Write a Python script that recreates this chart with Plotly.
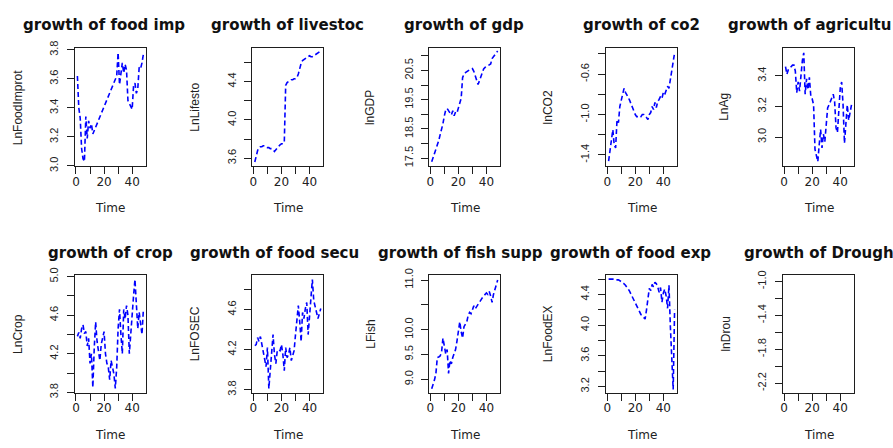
import plotly.graph_objects as go

# ---- series (t = 1..48) ----
time = list(range(1, 49))

food_import_t = list(range(1, 13)) + list(range(29, 49))
ln_food_import = [3.62, 3.40, 3.33, 3.12, 3.05, 3.03, 3.34, 3.19, 3.31, 3.26, 3.29, 3.22,
                  3.62, 3.78, 3.56, 3.62, 3.71, 3.64, 3.70, 3.66, 3.45, 3.43, 3.41, 3.39,
                  3.55, 3.57, 3.50, 3.53, 3.68, 3.67, 3.71, 3.77]

ln_livestock = [3.56, 3.63, 3.68, 3.71, 3.72, 3.72, 3.73, 3.73, 3.72, 3.71, 3.71, 3.70,
                3.70, 3.69, 3.67, 3.69, 3.71, 3.72, 3.74, 3.75, 3.75, 3.76, 4.36, 4.39,
                4.40, 4.41, 4.42, 4.42, 4.43, 4.43, 4.44, 4.48, 4.55, 4.59, 4.62, 4.63,
                4.64, 4.65, 4.66, 4.67, 4.66, 4.66, 4.67, 4.68, 4.69, 4.70, 4.71, 4.72]

ln_gdp = [17.38, 17.52, 17.65, 17.78, 17.90, 18.10, 18.30, 18.45, 18.68, 18.95, 19.15, 19.20,
          19.10, 19.05, 18.98, 19.12, 18.95, 19.08, 19.05, 19.22, 19.38, 19.55, 20.25, 20.38,
          20.42, 20.46, 20.50, 20.52, 20.54, 20.56, 20.47, 20.33, 20.15, 20.02, 20.14, 20.28,
          20.38, 20.55, 20.60, 20.63, 20.66, 20.68, 20.72, 20.90, 20.98, 21.06, 21.10, 21.16]

ln_co2 = [-1.46, -1.36, -1.28, -1.15, -1.30, -1.33, -1.05, -1.08, -0.92, -0.85, -0.78, -0.74,
          -0.78, -0.80, -0.83, -0.86, -0.90, -0.94, -0.97, -1.00, -1.02, -1.02, -1.01, -1.02,
          -1.00, -1.00, -1.02, -1.03, -1.05, -1.00, -0.98, -0.92, -0.95, -0.88, -0.93, -0.87,
          -0.85, -0.82, -0.84, -0.78, -0.80, -0.76, -0.72, -0.74, -0.64, -0.55, -0.47, -0.39]

ln_ag = [3.46, 3.41, 3.44, 3.45, 3.46, 3.47, 3.47, 3.43, 3.29, 3.36, 3.30, 3.42,
         3.50, 3.55, 3.28, 3.38, 3.31, 3.39, 3.27, 3.25, 3.21, 2.92, 2.87, 2.84,
         2.95, 3.05, 2.93, 3.02, 2.97, 3.06, 3.19, 3.21, 3.23, 3.25, 3.28, 3.23,
         3.06, 3.03, 3.21, 3.32, 3.36, 3.21, 2.96, 3.13, 3.21, 3.11, 3.17, 3.21]

ln_crop = [4.38, 4.42, 4.36, 4.46, 4.50, 4.41, 4.43, 4.28, 4.36, 4.10, 4.20, 3.85,
           4.26, 4.53, 4.33, 4.23, 4.13, 4.30, 4.36, 4.43, 4.20, 4.10, 4.06, 3.93,
           4.13, 4.06, 3.99, 3.84, 4.06, 4.46, 4.66, 4.40, 4.20, 4.66, 4.56, 4.70,
           4.60, 4.20, 4.40, 4.70, 4.80, 4.97, 4.73, 4.46, 4.63, 4.53, 4.40, 4.66]

ln_fosec = [4.24, 4.25, 4.32, 4.28, 4.33, 4.25, 4.20, 4.09, 4.03, 4.22, 3.81, 3.99,
            4.15, 4.35, 4.15, 4.06, 4.19, 4.20, 4.19, 4.25, 4.15, 3.99, 4.22, 4.12,
            4.15, 4.22, 4.09, 4.15, 4.19, 4.35, 4.53, 4.64, 4.48, 4.28, 4.57, 4.51,
            4.61, 4.67, 4.35, 4.54, 4.74, 4.90, 4.69, 4.64, 4.57, 4.51, 4.57, 4.61]

l_fish = [8.81, 8.89, 8.99, 9.12, 9.44, 9.45, 9.47, 9.54, 9.83, 9.67, 9.51, 9.60,
          9.12, 9.38, 9.31, 9.44, 9.51, 9.60, 9.77, 9.96, 10.16, 9.96, 9.83, 10.06,
          10.12, 10.16, 10.29, 10.35, 10.32, 10.42, 10.48, 10.42, 10.48, 10.51, 10.55, 10.61,
          10.64, 10.68, 10.71, 10.74, 10.71, 10.77, 10.68, 10.55, 10.71, 10.81, 10.90, 11.00]

ln_food_export = [4.60, 4.60, 4.60, 4.60, 4.60, 4.59, 4.59, 4.59, 4.58, 4.57, 4.56, 4.54,
                  4.52, 4.50, 4.47, 4.44, 4.40, 4.36, 4.32, 4.28, 4.24, 4.20, 4.17, 4.14,
                  4.12, 4.10, 4.08, 4.20, 4.38, 4.48, 4.45, 4.53, 4.50, 4.56, 4.54, 4.50,
                  4.43, 4.49, 4.30, 4.42, 4.47, 4.38, 4.22, 4.52, 3.98, 3.52, 3.16, 4.20]

ln_drought = []

# ---- axis ticks ----
x_ticks = [0, 10, 20, 30, 40]
x_tick_text = ["0", "", "20", "", "40"]

y_ticks = {
    "food_imp": ([3.0, 3.2, 3.4, 3.6, 3.8], ["3.0", "3.2", "3.4", "3.6", "3.8"]),
    "livestock": ([3.6, 3.8, 4.0, 4.2, 4.4, 4.6], ["3.6", "", "4.0", "", "4.4", ""]),
    "gdp": ([17.5, 18, 18.5, 19, 19.5, 20, 20.5, 21], ["17.5", "", "18.5", "", "19.5", "", "20.5", ""]),
    "co2": ([-1.4, -1.2, -1.0, -0.8, -0.6, -0.4], ["-1.4", "", "-1.0", "", "-0.6", ""]),
    "ag": ([3.0, 3.2, 3.4], ["3.0", "3.2", "3.4"]),
    "crop": ([3.8, 4.0, 4.2, 4.4, 4.6, 4.8, 5.0], ["3.8", "", "4.2", "", "4.6", "", "5.0"]),
    "fosec": ([3.8, 4.0, 4.2, 4.4, 4.6, 4.8], ["3.8", "", "4.2", "", "4.6", ""]),
    "fish": ([9.0, 9.5, 10.0, 10.5, 11.0], ["9.0", "9.5", "10.0", "", "11.0"]),
    "food_exp": ([3.2, 3.4, 3.6, 3.8, 4.0, 4.2, 4.4, 4.6], ["3.2", "", "3.6", "", "4.0", "", "4.4", ""]),
    "drought": ([-2.2, -2.0, -1.8, -1.6, -1.4, -1.2, -1.0], ["-2.2", "", "-1.8", "", "-1.4", "", "-1.0"]),
}

# ---- page geometry (pixels) ----
W, H = 893, 448
col_left = [72, 250, 427.5, 605, 782.5]
box_w = 71.5
row_top = [41.7, 275.7]
box_h = 121.6
title_y = [18, 253]
time_y = [206, 441]

def fx(p):
    return p / W

def fy(p):
    return 1 - p / H

# (key, title, title x, title anchor, y label, y label x, x data, y data, y range)
panels = [
    ("food_imp", "growth of food imp", 18, "left", "LnFoodImprot", 15, food_import_t, ln_food_import, [2.998, 3.81]),
    ("livestock", "growth of livestoc", 207, "left", "LnLifesto", 193, time, ln_livestock, [3.516, 4.747]),
    ("gdp", "growth of gdp", 463, "center", "lnGDP", 369, time, ln_gdp, [17.23, 21.25]),
    ("co2", "growth of co2", 641, "center", "lnCO2", 547, time, ln_co2, [-1.511, -0.345]),
    ("ag", "growth of agricultu", 725, "left", "LnAg", 724, time, ln_ag, [2.81, 3.579]),
    ("crop", "growth of crop", 108, "center", "LnCrop", 15, time, ln_crop, [3.794, 5.016]),
    ("fosec", "growth of food secu", 186, "left", "LnFOSEC", 193, time, ln_fosec, [3.768, 4.944]),
    ("fish", "growth of fish supp", 374, "left", "LFish", 369, time, l_fish, [8.727, 11.10]),
    ("food_exp", "growth of food exp", 547, "left", "LnFoodEX", 547, time, ln_food_export, [3.117, 4.653]),
    ("drought", "growth of Drough", 741, "left", "lnDrou", 725, time, ln_drought, [-2.314, -0.925]),
]

fig = go.Figure()
annotations = []
axis_color = "#1e1e1e"
text_color = "#222222"

for i, (key, title, tx, tanchor, ylab, ylx, xs, ys, yr) in enumerate(panels):
    r, c = divmod(i, 5)
    n = "" if i == 0 else str(i + 1)
    left = col_left[c]
    top = row_top[r]

    fig.add_trace(go.Scatter(
        x=xs, y=ys, mode="lines",
        line=dict(color="#0000ff", width=1.6, dash="5px,3px"),
        xaxis="x" + n, yaxis="y" + n, showlegend=False, hoverinfo="skip",
    ))

    common = dict(
        showline=True, mirror=True, linecolor=axis_color, linewidth=1.2,
        ticks="outside", ticklen=7, tickwidth=1, tickcolor=axis_color,
        showgrid=False, zeroline=False, fixedrange=True,
    )
    fig.layout["xaxis" + n] = dict(
        common, domain=[fx(left), fx(left + box_w)], anchor="y" + n,
        range=[-0.88, 49.88], tickmode="array", tickvals=x_ticks, ticktext=x_tick_text,
        tickfont=dict(family="DejaVu Sans", size=12, color=text_color),
        ticklabelstandoff=-3,
    )
    tv, tt = y_ticks[key]
    fig.layout["yaxis" + n] = dict(
        common, domain=[fy(top + box_h), fy(top)], anchor="x" + n,
        range=yr, tickmode="array", tickvals=tv, ticktext=tt, tickangle=-90,
        tickfont=dict(family="Liberation Sans", size=11, color=text_color),
        ticklabelstandoff=4,
    )

    annotations.append(dict(
        text=title, x=fx(tx), y=fy(title_y[r]), xref="paper", yref="paper",
        xanchor=tanchor, yanchor="middle", showarrow=False,
        font=dict(family="DejaVu Sans", size=15, color="#111111", weight="bold"),
    ))
    annotations.append(dict(
        text="Time", x=fx(left + box_w / 2), y=fy(time_y[r]), xref="paper", yref="paper",
        xanchor="center", yanchor="middle", showarrow=False,
        font=dict(family="DejaVu Sans", size=12, color=text_color),
    ))
    annotations.append(dict(
        text=ylab, x=fx(ylx), y=fy(top + box_h / 2), xref="paper", yref="paper",
        xanchor="center", yanchor="middle", showarrow=False, textangle=-90,
        font=dict(family="Liberation Sans", size=12, color=text_color),
    ))

fig.update_layout(
    width=W, height=H, margin=dict(l=0, r=0, t=0, b=0),
    paper_bgcolor="white", plot_bgcolor="white",
    annotations=annotations,
)

fig.write_html("out.html", config={"displayModeBar": False})
